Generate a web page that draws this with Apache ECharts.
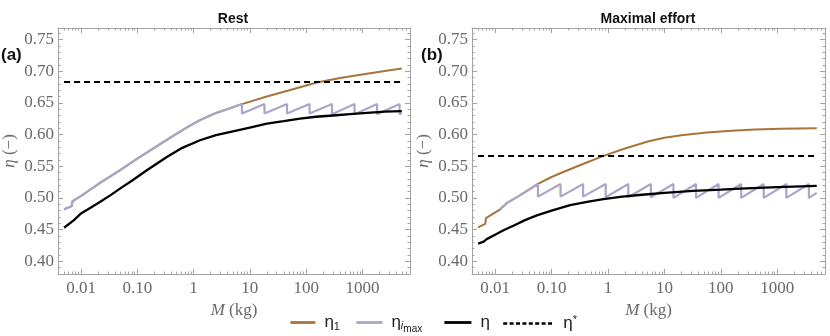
<!DOCTYPE html>
<html>
<head>
<meta charset="utf-8">
<script src="https://cdn.jsdelivr.net/npm/echarts@6/dist/echarts.min.js"></script>
<style>
html, body { margin: 0; padding: 0; background: #fff; }
#chart { width: 830px; height: 336px; }
</style>
</head>
<body>
<div id="chart"></div>
<script>
// axis ranges and tick labels
var xMin = 0.0039, xMax = 7000, yMin = 0.38, yMax = 0.768;
var xTickValues = [0.01, 0.1, 1, 10, 100, 1000];
var yTickValues = [0.40, 0.45, 0.50, 0.55, 0.60, 0.65, 0.70, 0.75];

// (a) Rest
var restMassEta1 = [0.005, 0.0068, 0.0071, 0.01, 0.022, 0.05, 0.1, 0.2, 0.4, 0.79, 1.32, 2.5, 4, 7.24, 20, 56, 155, 400, 1050, 2500, 5000];
var restEta1 = [0.482, 0.487, 0.495, 0.503, 0.524, 0.544, 0.562, 0.579, 0.596, 0.612, 0.623, 0.634, 0.640, 0.648, 0.660, 0.671, 0.682, 0.689, 0.695, 0.700, 0.704];
var restMassImax = [0.005, 0.0068, 0.0071, 0.01, 0.022, 0.05, 0.1, 0.2, 0.4, 0.79, 1.32, 2.5, 4, 7.24, 7.24, 18.2, 18.2, 45.7, 45.7, 115, 115, 288, 288, 724, 724, 1820, 1820, 4570, 4570, 5000];
var restImax = [0.482, 0.487, 0.495, 0.503, 0.524, 0.544, 0.562, 0.579, 0.596, 0.612, 0.623, 0.634, 0.640, 0.648, 0.633, 0.648, 0.633, 0.648, 0.633, 0.648, 0.633, 0.648, 0.632, 0.648, 0.632, 0.648, 0.632, 0.648, 0.632, 0.634];
var restMassEta = [0.005, 0.0075, 0.01, 0.015, 0.022, 0.033, 0.05, 0.08, 0.15, 0.34, 0.63, 1.3, 2.5, 5, 10, 20, 40, 78, 150, 300, 600, 1200, 2500, 5000];
var restEta = [0.453, 0.465, 0.4755, 0.485, 0.494, 0.504, 0.515, 0.527, 0.544, 0.565, 0.579, 0.591, 0.599, 0.605, 0.611, 0.617, 0.621, 0.625, 0.628, 0.630, 0.632, 0.634, 0.636, 0.637];
var restEtaStar = 0.683;

// (b) Maximal effort
var maxMassEta1 = [0.005, 0.0067, 0.0069, 0.0123, 0.0162, 0.0275, 0.0575, 0.1, 0.174, 0.4, 0.81, 2.0, 5.1, 10, 20, 56, 155, 400, 1175, 5000];
var maxEta1 = [0.4535, 0.459, 0.468, 0.482, 0.492, 0.504, 0.522, 0.533, 0.542, 0.555, 0.566, 0.578, 0.589, 0.595, 0.599, 0.603, 0.606, 0.608, 0.609, 0.610];
var maxMassImax = [0.0123, 0.0162, 0.0275, 0.0575, 0.0575, 0.1445, 0.1445, 0.363, 0.363, 0.912, 0.912, 2.29, 2.29, 5.75, 5.75, 14.45, 14.45, 36.3, 36.3, 91.2, 91.2, 229, 229, 575, 575, 1445, 1445, 3630, 3630, 5000];
var maxImax = [0.482, 0.492, 0.504, 0.522, 0.502, 0.522, 0.502, 0.522, 0.502, 0.522, 0.501, 0.522, 0.501, 0.522, 0.501, 0.522, 0.500, 0.522, 0.500, 0.522, 0.500, 0.522, 0.500, 0.522, 0.500, 0.522, 0.500, 0.522, 0.500, 0.508];
var maxMassEta = [0.005, 0.0063, 0.0066, 0.0071, 0.01, 0.0141, 0.022, 0.0339, 0.055, 0.1, 0.214, 0.45, 0.83, 1.8, 4, 10, 32, 100, 219, 1000, 5000];
var maxEta = [0.428, 0.431, 0.430, 0.435, 0.442, 0.449, 0.457, 0.465, 0.4725, 0.480, 0.4885, 0.494, 0.498, 0.502, 0.505, 0.508, 0.511, 0.513, 0.5148, 0.517, 0.519];
var maxEtaStar = 0.566;
var starMass = [0.005, 5000];

var brown = '#a8743d', lilac = '#aaa6c9', frame = '#a3a3a3', tickText = '#6a6a6a';
var serif = '"Liberation Serif", "DejaVu Serif", serif';
var sans = '"Liberation Sans", Arial, sans-serif';

function pairs(xs, ys) {
    return xs.map(function (x, i) { return [x, ys[i]]; });
}

// Mathematica style log minor ticks (2..9 per decade) and y minor ticks
var xMinor = [];
for (var d = -3; d <= 3; d++) for (var k = 2; k <= 9; k++) {
    var v = k * Math.pow(10, d);
    if (v > xMin && v < xMax) xMinor.push(v);
}
var yMinor = [];
for (var j = 38; j <= 76; j++) if (j % 5) yMinor.push(j / 100);

function xAxes(grid) {
    var base = { gridIndex: grid, type: 'log', logBase: 10, min: xMin, max: xMax, splitLine: { show: false } };
    var line = { show: true, lineStyle: { color: frame, width: 1 } };
    return [
        Object.assign({}, base, {
            position: 'bottom', axisLine: line,
            axisTick: { inside: true, length: 5, customValues: xTickValues, lineStyle: { color: frame } },
            axisLabel: {
                customValues: xTickValues, margin: 6, color: tickText, fontFamily: serif, fontSize: 17,
                formatter: function (v) { return v < 1 ? v.toFixed(2) : String(Math.round(v)); }
            },
            name: '{i|M} (kg)', nameLocation: 'middle', nameGap: 28,
            nameTextStyle: { color: tickText, fontFamily: serif, fontSize: 17,
                rich: { i: { fontStyle: 'italic', color: tickText, fontFamily: serif, fontSize: 17 } } }
        }),
        Object.assign({}, base, { position: 'bottom', axisLine: { show: false }, axisLabel: { show: false },
            axisTick: { inside: true, length: 2.5, customValues: xMinor, lineStyle: { color: frame } } }),
        Object.assign({}, base, { position: 'top', axisLine: line, axisLabel: { show: false },
            axisTick: { inside: true, length: 5, customValues: xTickValues, lineStyle: { color: frame } } }),
        Object.assign({}, base, { position: 'top', axisLine: { show: false }, axisLabel: { show: false },
            axisTick: { inside: true, length: 2.5, customValues: xMinor, lineStyle: { color: frame } } })
    ];
}

function yAxes(grid) {
    var base = { gridIndex: grid, type: 'value', min: yMin, max: yMax, splitLine: { show: false } };
    var line = { show: true, lineStyle: { color: frame, width: 1 } };
    return [
        Object.assign({}, base, {
            position: 'left', axisLine: line,
            axisTick: { inside: true, length: 5, customValues: yTickValues, lineStyle: { color: frame } },
            axisLabel: { customValues: yTickValues, margin: 4, color: tickText, fontFamily: serif, fontSize: 17,
                formatter: function (v) { return v.toFixed(2); } },
            name: '{i|η} (−)', nameLocation: 'middle', nameGap: 40,
            nameTextStyle: { color: tickText, fontFamily: serif, fontSize: 17,
                rich: { i: { fontStyle: 'italic', color: tickText, fontFamily: serif, fontSize: 17 } } }
        }),
        Object.assign({}, base, { position: 'left', axisLine: { show: false }, axisLabel: { show: false },
            axisTick: { inside: true, length: 2.5, customValues: yMinor, lineStyle: { color: frame } } }),
        Object.assign({}, base, { position: 'right', axisLine: line, axisLabel: { show: false },
            axisTick: { inside: true, length: 5, customValues: yTickValues, lineStyle: { color: frame } } }),
        Object.assign({}, base, { position: 'right', axisLine: { show: false }, axisLabel: { show: false },
            axisTick: { inside: true, length: 2.5, customValues: yMinor, lineStyle: { color: frame } } })
    ];
}

function line(name, axis, data, color, width, extra) {
    return Object.assign({
        name: name, type: 'line', xAxisIndex: axis, yAxisIndex: axis, data: data,
        symbol: 'none', animation: false, silent: true,
        lineStyle: { color: color, width: width }, itemStyle: { color: color }
    }, extra || {});
}

var dashed = { lineStyle: { color: '#000', width: 2, type: [6, 4] } };
var series = [
    line('η1', 0, pairs(restMassEta1, restEta1), brown, 2),
    line('ηimax', 0, pairs(restMassImax, restImax), lilac, 2.2),
    line('η', 0, pairs(restMassEta, restEta), '#000', 2.3),
    line('η*', 0, pairs(starMass, [restEtaStar, restEtaStar]), '#000', 2, dashed),
    line('η1', 4, pairs(maxMassEta1, maxEta1), brown, 2),
    line('ηimax', 4, pairs(maxMassImax, maxImax), lilac, 2.2),
    line('η', 4, pairs(maxMassEta, maxEta), '#000', 2.3),
    line('η*', 4, pairs(starMass, [maxEtaStar, maxEtaStar]), '#000', 2, dashed)
];

var legendRich = {
    e: { fontFamily: sans, fontSize: 17, color: '#222', padding: [0, 0, 0, 4] },
    s: { fontFamily: sans, fontSize: 11, color: '#222', padding: [9, 0, 0, 0] },
    i: { fontFamily: sans, fontSize: 11, fontStyle: 'italic', color: '#222', padding: [7, 0, 0, 0] },
    m: { fontFamily: sans, fontSize: 10, color: '#222', padding: [14, 0, 0, 0] },
    p: { fontFamily: sans, fontSize: 11, color: '#222', padding: [0, 0, 8, 0] }
};
var legendText = { 'η1': '{e|η}{s|1}', 'ηimax': '{e|η}{i|i}{m|max}', 'η': '{e|η}', 'η*': '{e|η}{p|*}' };

function legendAt(left, name, width, lineType) {
    return {
        left: left, top: 314, padding: 0, data: [name], itemWidth: width, itemHeight: 14, selectedMode: false,
        itemStyle: { opacity: 0 },
        lineStyle: lineType ? { width: 2.4, type: lineType } : { width: 2.8 },
        formatter: function (n) { return legendText[n]; },
        textStyle: { rich: legendRich }
    };
}

var chart = echarts.init(document.getElementById('chart'), null, { renderer: 'canvas' });
chart.setOption({
    backgroundColor: '#fff',
    animation: false,
    grid: [
        { left: 57, right: 420, top: 28, bottom: 62 },
        { left: 472, right: 5, top: 28, bottom: 62 }
    ],
    xAxis: xAxes(0).concat(xAxes(1)),
    yAxis: yAxes(0).concat(yAxes(1)),
    legend: [
        legendAt(289, 'η1', 25),
        legendAt(355, 'ηimax', 26),
        legendAt(443, 'η', 27),
        legendAt(502, 'η*', 51, [4, 2.4])
    ],
    graphic: [
        { type: 'text', x: 233, y: 19, style: { text: 'Rest', fill: '#111', font: 'bold 14px ' + sans, align: 'center', verticalAlign: 'middle' } },
        { type: 'text', x: 648, y: 19, style: { text: 'Maximal effort', fill: '#111', font: 'bold 14px ' + sans, align: 'center', verticalAlign: 'middle' } },
        { type: 'text', x: 1, y: 55, style: { text: '(a)', fill: '#111', font: 'bold 17px ' + sans, align: 'left', verticalAlign: 'middle' } },
        { type: 'text', x: 421, y: 55, style: { text: '(b)', fill: '#111', font: 'bold 17px ' + sans, align: 'left', verticalAlign: 'middle' } }
    ],
    series: series
});
</script>
</body>
</html>
